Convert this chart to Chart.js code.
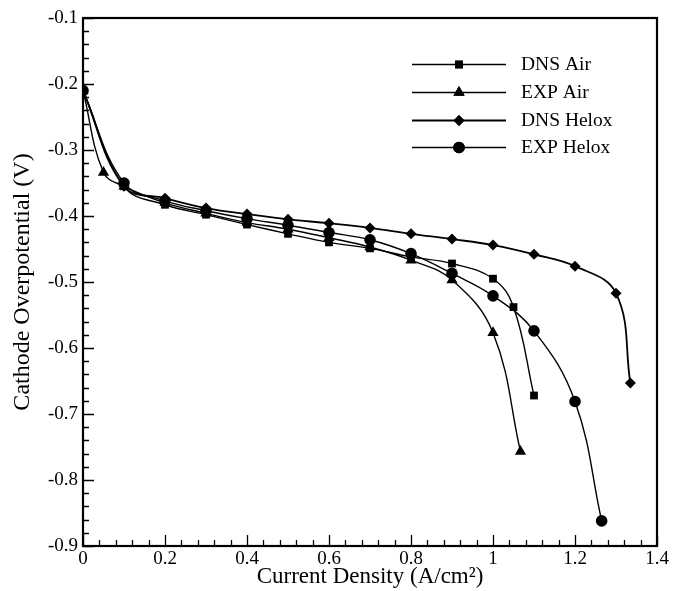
<!DOCTYPE html>
<html>
<head>
<meta charset="utf-8">
<script src="https://cdn.jsdelivr.net/npm/chart.js@4.4.1/dist/chart.umd.min.js"></script>
<style>
html,body{margin:0;padding:0;background:#fff;}
#wrap{width:673px;height:591px;position:relative;}
</style>
</head>
<body>
<div id="wrap"><canvas id="c" width="673" height="591"></canvas></div>
<script>
const seriesNames = ["DNS Air", "EXP Air", "DNS Helox", "EXP Helox"];
const dnsAirX = [0, 0.1, 0.2, 0.3, 0.4, 0.5, 0.6, 0.7, 0.8, 0.9, 1.0, 1.05, 1.1];
const dnsAirY = [-0.21, -0.355, -0.383, -0.398, -0.413, -0.427, -0.44, -0.449, -0.462, -0.472, -0.495, -0.538, -0.672];
const expAirX = [0, 0.05, 0.1, 0.2, 0.3, 0.4, 0.5, 0.6, 0.7, 0.8, 0.9, 1.0, 1.067];
const expAirY = [-0.21, -0.334, -0.355, -0.38, -0.396, -0.41, -0.42, -0.433, -0.447, -0.467, -0.497, -0.577, -0.757];
const dnsHeloxX = [0, 0.1, 0.2, 0.3, 0.4, 0.5, 0.6, 0.7, 0.8, 0.9, 1.0, 1.1, 1.2, 1.3, 1.335];
const dnsHeloxY = [-0.21, -0.355, -0.373, -0.388, -0.397, -0.405, -0.411, -0.418, -0.427, -0.435, -0.444, -0.458, -0.476, -0.517, -0.653];
const expHeloxX = [0, 0.1, 0.2, 0.3, 0.4, 0.5, 0.6, 0.7, 0.8, 0.9, 1.0, 1.1, 1.2, 1.265];
const expHeloxY = [-0.21, -0.35, -0.377, -0.392, -0.404, -0.414, -0.425, -0.436, -0.457, -0.487, -0.521, -0.574, -0.681, -0.862];
const xTicks = [0, 0.2, 0.4, 0.6, 0.8, 1, 1.2, 1.4];
const yTicks = [-0.1, -0.2, -0.3, -0.4, -0.5, -0.6, -0.7, -0.8, -0.9];

const FONT = "'Liberation Serif', 'DejaVu Serif', serif";
function pts(xs, ys){ return xs.map((x,i)=>({x:x, y:ys[i]})); }
const styles = [
  {pointStyle:'rect', pointRadius:5.5},
  {pointStyle:'triangle', pointRadius:6.5},
  {pointStyle:'rectRot', pointRadius:5.5},
  {pointStyle:'circle', pointRadius:5.8}
];
const allData = [pts(dnsAirX,dnsAirY), pts(expAirX,expAirY), pts(dnsHeloxX,dnsHeloxY), pts(expHeloxX,expHeloxY)];
const datasets = allData.map((d,i)=>({
  label: seriesNames[i],
  data: d,
  showLine: true,
  borderColor: '#000',
  backgroundColor: '#000',
  borderWidth: i===2 ? 1.8 : 1.4,
  tension: 0.4,
  pointStyle: styles[i].pointStyle,
  pointRadius: styles[i].pointRadius,
  pointBorderWidth: 0,
  pointHoverRadius: styles[i].pointRadius
}));

const innerTicks = {
  id: 'innerTicks',
  afterDraw(chart){
    const ctx = chart.ctx, a = chart.chartArea;
    const xs = chart.scales.x, ys = chart.scales.y;
    ctx.save();
    ctx.strokeStyle = '#000';
    ctx.lineWidth = 1.3;
    ctx.beginPath();
    for (let k = 0; k <= 35; k++) {
      const v = k * 0.04;
      const px = Math.round(xs.getPixelForValue(v)) + 0.5;
      const major = (k % 5 === 0);
      ctx.moveTo(px, a.bottom);
      ctx.lineTo(px, a.bottom - (major ? 11 : 6));
    }
    for (let k = 0; k <= 40; k++) {
      const v = -0.1 - k * 0.02;
      const py = Math.round(ys.getPixelForValue(v)) + 0.5;
      const major = (k % 5 === 0);
      ctx.moveTo(a.left, py);
      ctx.lineTo(a.left + (major ? 11 : 6), py);
    }
    ctx.stroke();
    ctx.lineWidth = 2.2;
    ctx.strokeRect(a.left, a.top, a.right - a.left, a.bottom - a.top);
    ctx.restore();
  }
};

const customLegend = {
  id: 'customLegend',
  afterDatasetsDraw(chart){
    const ctx = chart.ctx;
    ctx.save();
    const rows = [64, 92, 120, 147];
    chart.data.datasets.forEach((ds, i) => {
      const y = rows[i];
      ctx.strokeStyle = '#000';
      ctx.lineWidth = ds.borderWidth;
      ctx.beginPath();
      ctx.moveTo(412, y + 0.5);
      ctx.lineTo(506, y + 0.5);
      ctx.stroke();
      Chart.helpers.drawPoint(ctx, {pointStyle: ds.pointStyle, radius: ds.pointRadius, rotation: 0, borderWidth: 0}, 459, y + 0.5);
      ctx.fillStyle = '#000';
      ctx.fill();
      ctx.font = "19.5px " + FONT;
      ctx.textBaseline = 'middle';
      ctx.textAlign = 'left';
      ctx.fillText(ds.label, 521, y + 1);
    });
    ctx.restore();
  }
};

new Chart(document.getElementById('c'), {
  type: 'scatter',
  data: { datasets },
  plugins: [innerTicks, customLegend],
  options: {
    responsive: false,
    animation: false,
    layout: { padding: { left: 0, right: 16, top: 18, bottom: 0 } },
    plugins: { legend: { display: false }, tooltip: { enabled: false } },
    scales: {
      x: {
        type: 'linear', min: 0, max: 1.4,
        afterBuildTicks(s){ s.ticks = xTicks.map(v=>({value:v})); },
        afterFit(s){ s.height = 45; },
        grid: { display: false, drawTicks: false },
        border: { display: false },
        ticks: {
          color: '#000', padding: 2,
          font: { family: FONT, size: 19 },
          callback: v => String(Math.round(v*10)/10)
        },
        title: {
          display: true, text: 'Current Density (A/cm²)', color: '#000',
          font: { family: FONT, size: 23 }, padding: { top: 0, bottom: 0 }
        }
      },
      y: {
        type: 'linear', min: -0.9, max: -0.1,
        afterBuildTicks(s){ s.ticks = yTicks.map(v=>({value:v})); },
        afterFit(s){ s.width = 83; },
        grid: { display: false, drawTicks: false },
        border: { display: false },
        ticks: {
          color: '#000', padding: 5,
          font: { family: FONT, size: 19 },
          callback: v => (Math.round(v*10)/10).toFixed(1)
        },
        title: {
          display: true, text: 'Cathode Overpotential (V)', color: '#000',
          font: { family: FONT, size: 24 }, padding: { top: 8, bottom: 0 }
        }
      }
    }
  }
});
</script>
</body>
</html>
